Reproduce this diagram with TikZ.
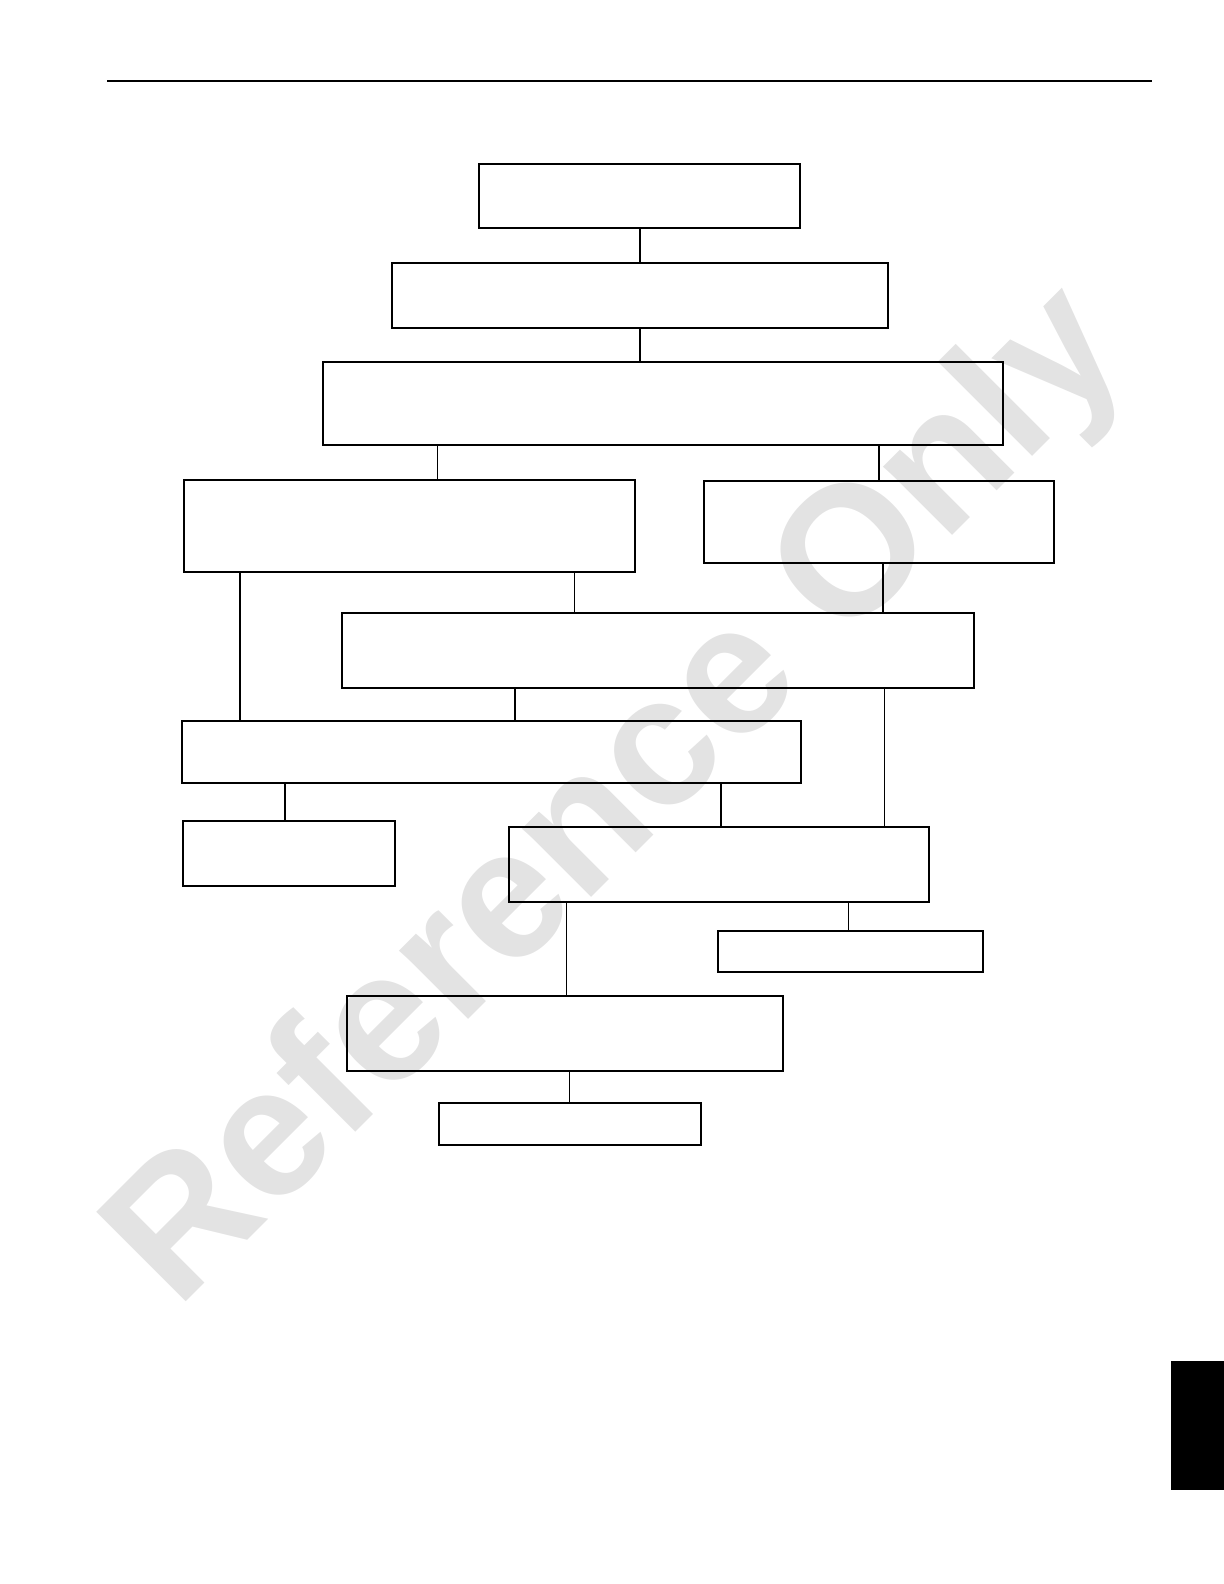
\documentclass[tikz,border=0pt]{standalone}
\usepackage{fontspec}
\newfontfamily\wmfont{Liberation Sans}
\usepackage{tikz}
\usetikzlibrary{fit}
\tikzset{
  box/.style={draw, line width=1pt, inner sep=0pt},
  link/.style={line width=0.8pt},
  thinlink/.style={line width=0.5pt}
}
\begin{document}
\begin{tikzpicture}[x=0.5pt,y=-0.5pt]
\useasboundingbox (0,0) rectangle (1224,1584);
% filigrane
\node[rotate=45, text=black!11, font=\wmfont\bfseries\fontsize{92}{100}\selectfont] (wm) at (621,800) {Reference Only};
% filet du haut et onglet
\draw[line width=1pt] (107,81) -- (1152,81);
\fill (1171,1361) rectangle (1224,1490);
% cases
\foreach \n/\l/\t/\r/\b in {A/479/164/800/228, B/392/263/888/328, C/323/362/1003/445,
    D/184/480/635/572, E/704/481/1054/563, F/342/613/974/688, G/182/721/801/783,
    H/183/821/395/886, I/509/827/929/902, K/718/931/983/972, J/347/996/783/1071,
    L/439/1103/701/1145}
  \node[box, fit={(\l,\t) (\r,\b)}] (\n) {};
% liaisons
\foreach \a/\b/\x in {A/B/640, B/C/640, C/E/879, D/G/240, E/F/883, F/G/515, G/H/285, G/I/721}
  \draw[link] (\x,0 |- \a.south) -- (\x,0 |- \b.north);
\foreach \a/\b/\x in {C/D/437, D/F/574, F/I/884, I/J/566, I/K/848, J/L/569}
  \draw[thinlink] (\x,0 |- \a.south) -- (\x,0 |- \b.north);
\end{tikzpicture}
\end{document}
